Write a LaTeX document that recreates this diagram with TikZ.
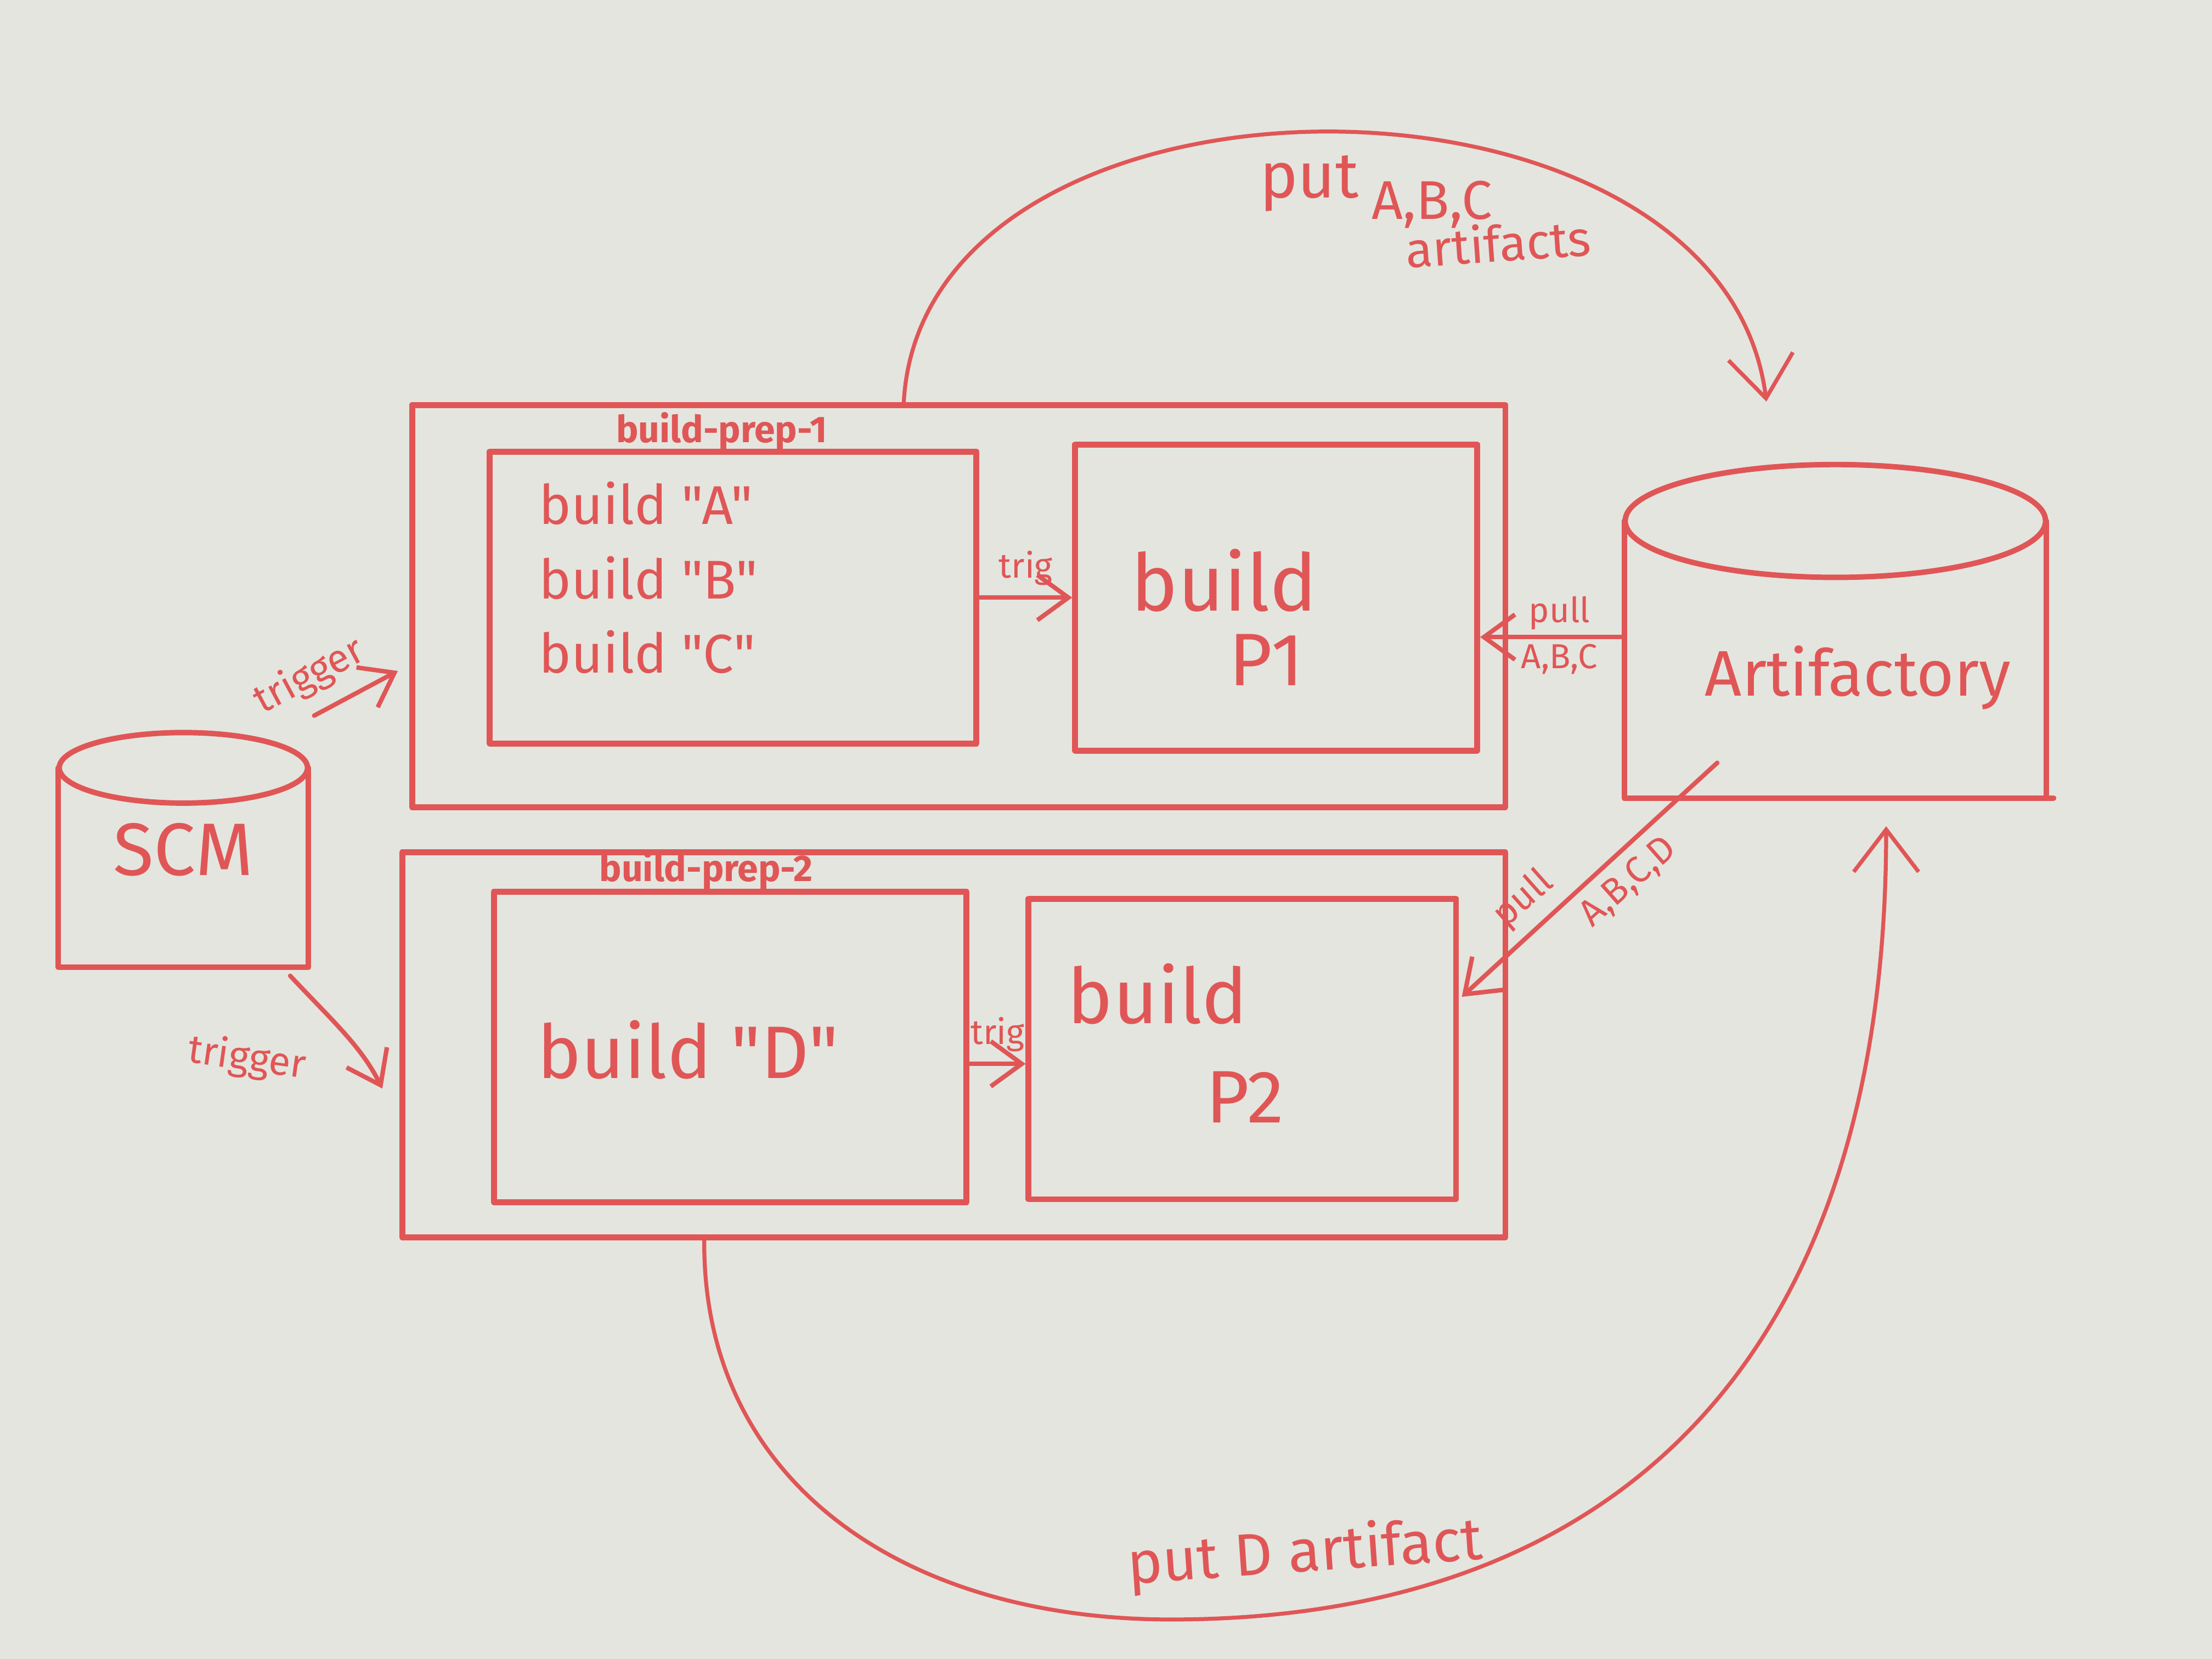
\documentclass[tikz,border=0pt]{standalone}
\usepackage{fontspec}
\setmainfont{Fira Sans}
\newfontfamily\hand{Fira Sans}
\usetikzlibrary{arrows.meta,calc}
\definecolor{marker}{HTML}{E05656}
\definecolor{board}{HTML}{E4E5DF}
\newcommand\fs[1]{\fontsize{#1}{#1}\selectfont}
\begin{document}
\begin{tikzpicture}[
  line join=round, line cap=round,
  box/.style={draw=marker, line width=1.2pt, rectangle, inner sep=0pt},
  cylpart/.style={draw=marker, line width=1.1pt},
  lbl/.style={text=marker, inner sep=1pt, font=\hand},
  conn/.style={draw=marker, line width=0.9pt, -{Straight Barb[length=2.2mm,width=3.2mm]}},
  bigarc/.style={draw=marker, line width=0.8pt, -{Straight Barb[length=3mm,width=4.6mm]}},
]
\fill[board] (0,0) rectangle (15.68,-11.76);
\useasboundingbox (0,0) rectangle (15.68,-11.76);

% ---------- group boxes ----------
\node[box, minimum width=7.75cm, minimum height=2.85cm, anchor=north west] (g1) at (2.90,-2.85) {};
\node[box, minimum width=3.45cm, minimum height=2.07cm, anchor=north west] (abc) at (3.45,-3.18) {};
\node[box, minimum width=2.85cm, minimum height=2.17cm, anchor=north west] (p1) at (7.60,-3.13) {};

\node[box, minimum width=7.82cm, minimum height=2.73cm, anchor=north west] (g2) at (2.83,-6.02) {};
\node[box, minimum width=3.35cm, minimum height=2.20cm, anchor=north west] (dbox) at (3.48,-6.30) {};
\node[box, minimum width=3.03cm, minimum height=2.13cm, anchor=north west] (p2) at (7.27,-6.35) {};

% ---------- box texts ----------
\node[lbl, font=\hand\bfseries\fs{7.5}] (bp1) at ($(abc.north)+(-0.08,0.12)$) {build-prep-1};
\node[lbl, font=\hand\bfseries\fs{7.5}] (bp2) at ($(dbox.north)+(-0.17,0.13)$) {build-prep-2};
\node[lbl, font=\hand\fontsize{11}{15}\selectfont, align=left, anchor=west] (abctxt) at ($(abc.west)+(0.33,0.14)$) {build "A"\\build "B"\\build "C"};
\node[lbl, font=\hand\fs{16}] (p1a) at ($(p1.center)+(-0.37,0.12)$) {build};
\node[lbl, font=\hand\fs{15}] (p1b) at ($(p1.center)+(-0.07,-0.44)$) {P1};
\node[lbl, font=\hand\fs{15}] (dtxt) at ($(dbox.center)+(-0.30,-0.02)$) {build "D"};
\node[lbl, font=\hand\fs{15.5}] (p2a) at ($(p2.center)+(-0.60,0.39)$) {build};
\node[lbl, font=\hand\fs{15}] (p2b) at ($(p2.center)+(0.02,-0.34)$) {P2};

% ---------- SCM cylinder ----------
\node[lbl, font=\hand\fs{15}, minimum width=1.76cm, minimum height=1.65cm] (scm) at (1.30,-6.025) {SCM};
\draw[cylpart] ($(scm.north)+(0,-0.25)$) ellipse [x radius=0.88cm, y radius=0.25cm];
\draw[cylpart] ($(scm.north west)+(0,-0.25)$) -- (scm.south west) -- (scm.south east) -- ($(scm.north east)+(0,-0.25)$);

% ---------- Artifactory cylinder ----------
\node[inner sep=0pt, minimum width=2.98cm, minimum height=2.35cm] (art) at (13.01,-4.475) {};
\draw[cylpart] ($(art.north)+(0,-0.40)$) ellipse [x radius=1.49cm, y radius=0.40cm];
\draw[cylpart] ($(art.north west)+(0,-0.40)$) -- (art.south west) -- ($(art.south east)+(0.05,0)$);
\draw[cylpart] ($(art.north east)+(0,-0.40)$) -- (art.south east);
\node[lbl, font=\hand\fs{13}] (artlbl) at ($(art.center)+(0.16,-0.33)$) {Artifactory};

% ---------- triggers from SCM ----------
\coordinate (t1s) at ($(scm.north east)+(0.04,0.12)$);
\coordinate (t1e) at ($(g1.west)+(-0.08,-0.46)$);
\draw[conn] (t1s) -- node[lbl, font=\hand\fs{8}, sloped, above, pos=0.15, yshift=2pt] {trigger} (t1e);

\coordinate (t2s) at ($(scm.south east)+(-0.13,-0.06)$);
\coordinate (t2e) at ($(g2.west)+(-0.12,-0.31)$);
\draw[conn] (t2s) .. controls ($(t2s)+(0.3,-0.32)$) and ($(t2e)+(-0.15,0.3)$) .. (t2e);
\node[lbl, font=\hand\fs{8}, rotate=-8] (trg2) at ($(scm.south)+(0.45,-0.65)$) {trigger};

% ---------- trig arrows ----------
\draw[conn] (abc.east) -- node[lbl, font=\hand\fs{7}, above, yshift=1pt] {trig} (abc.east -| p1.west);
\coordinate (tr2) at ($(dbox.east)+(0,-0.12)$);
\draw[conn] (tr2) -- node[lbl, font=\hand\fs{7}, above, yshift=1pt] {trig} (tr2 -| p2.west);

% ---------- pulls ----------
\coordinate (pl1) at ($(p1.east)+(0,-0.28)$);
\draw[conn] (pl1 -| art.west) -- node[lbl, font=\hand\fs{7}, above, pos=0.45] {pull} node[lbl, font=\hand\fs{7}, below, pos=0.45] {A,B,C} (pl1);

\coordinate (pl2s) at ($(art.south west)+(0.66,0.25)$);
\coordinate (pl2e) at ($(p2.east)+(0.02,0.37)$);
\draw[conn] (pl2s) -- node[lbl, font=\hand\fs{7.5}, pos=0.68, rotate=41.5, anchor=south, inner sep=2pt] {pull}
                     node[lbl, font=\hand\fs{7.5}, pos=0.42, rotate=41.5, anchor=north, inner sep=2pt] {A,B,C,D} (pl2e);

% ---------- put A,B,C artifacts ----------
\coordinate (a1s) at ($(g1.north west)!0.45!(g1.north east)$);
\coordinate (a1e) at ($(art.north)+(-0.43,-0.02)$);
\draw[bigarc, shorten >=0.47cm] (a1s) .. controls (6.55,-0.3) and (12.2,-0.3) .. (a1e);
\node[lbl, font=\hand\fs{13}] (putabc1) at (9.28,-1.30) {put};
\node[lbl, font=\hand\fs{11}] (putabc2) at (10.15,-1.45) {A,B,C};
\node[lbl, font=\hand\fs{10}, rotate=4] (putabc3) at (10.62,-1.72) {artifacts};

% ---------- put D artifact ----------
\coordinate (a2s) at ($(g2.south west)!0.275!(g2.south east)$);
\coordinate (a2m) at (8.3,-11.48);
\coordinate (a2e) at ($(art.south)+(0.36,0)$);
\draw[bigarc, shorten >=0.2cm] (a2s) .. controls (4.98,-10.5) and (6.4,-11.48) .. (a2m)
   .. controls (11.4,-11.48) and (13.37,-9.7) .. (a2e);
\node[lbl, font=\hand\fs{12}, rotate=4] (putd) at (9.25,-11.02) {put D artifact};
\end{tikzpicture}
\end{document}
